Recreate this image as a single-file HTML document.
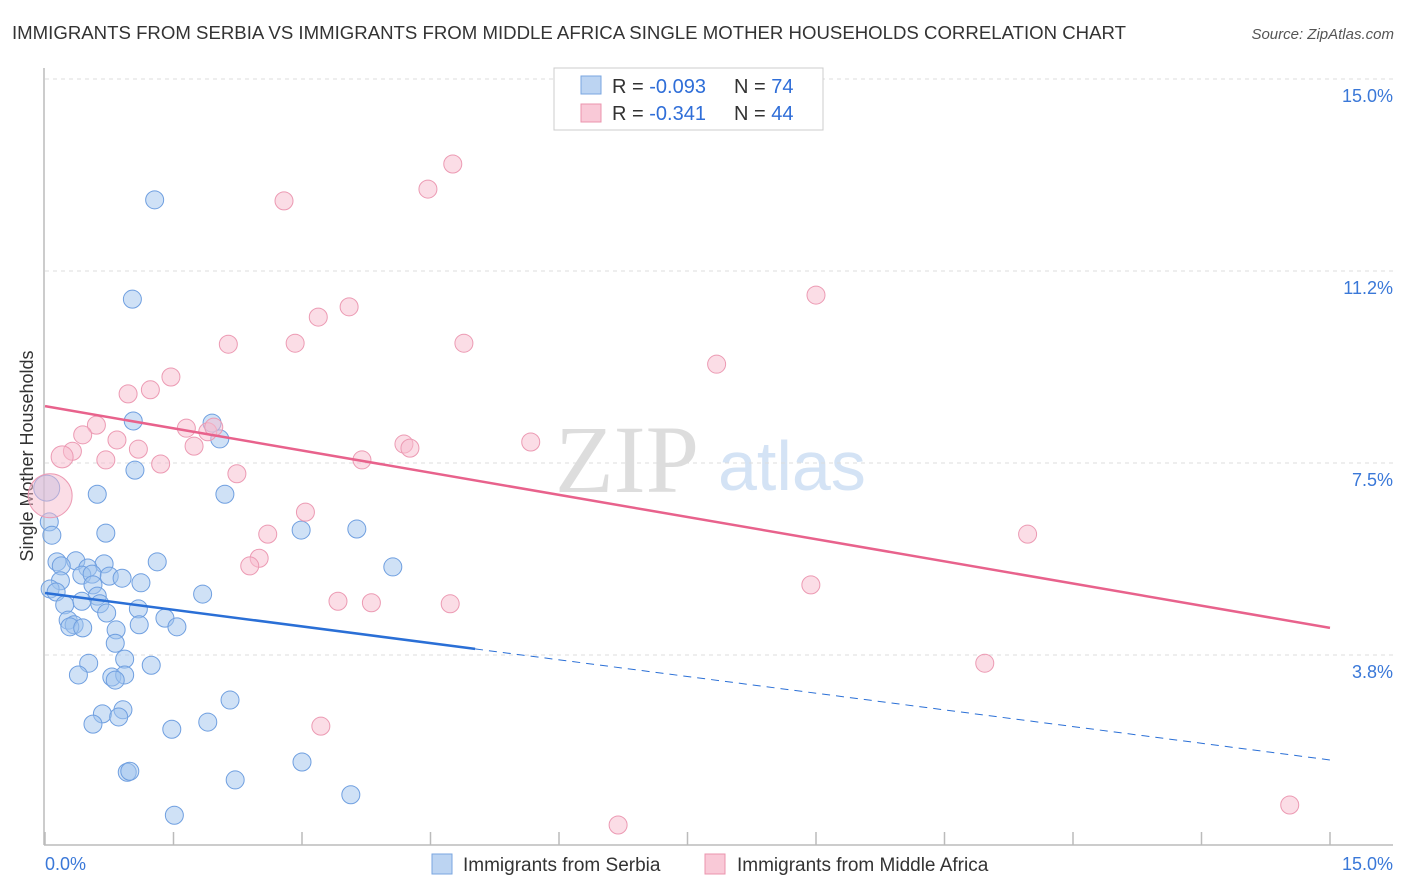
<!DOCTYPE html>
<html><head><meta charset="utf-8"><style>
body{margin:0;background:#fff;font-family:"Liberation Sans",sans-serif;}
#wrap{position:relative;width:1406px;height:892px;overflow:hidden}
</style></head><body>
<div id="wrap">
<svg id="svg" width="1406" height="892" xmlns="http://www.w3.org/2000/svg">
<text x="12" y="39" font-size="18" fill="#333" textLength="1114" lengthAdjust="spacingAndGlyphs">IMMIGRANTS FROM SERBIA VS IMMIGRANTS FROM MIDDLE AFRICA SINGLE MOTHER HOUSEHOLDS CORRELATION CHART</text>
<text x="1394" y="39" font-size="15" fill="#555" font-style="italic" text-anchor="end">Source: ZipAtlas.com</text>
<text x="33" y="456" font-size="18" fill="#333" text-anchor="middle" transform="rotate(-90 33 456)">Single Mother Households</text>
<text x="555" y="492" font-size="96" fill="#ddd" font-family="Liberation Serif">ZIP</text>
<text x="718" y="490" font-size="70" fill="#d4e3f5">atlas</text>
<g id="grid"></g><g id="pts"></g><g id="lines"></g>
<g>
<rect x="554" y="68" width="269" height="62" fill="#fff" stroke="#ccc"/>
<rect x="581" y="76" width="20" height="18" fill="#bcd4f2" stroke="#7aa6e0"/>
<rect x="581" y="104" width="20" height="18" fill="#f9c9d7" stroke="#eb94ae"/>
<text x="612" y="93" font-size="20" fill="#333">R = <tspan fill="#2f6ed8">-0.093</tspan></text>
<text x="734" y="93" font-size="20" fill="#333">N = <tspan fill="#2f6ed8">74</tspan></text>
<text x="612" y="120" font-size="20" fill="#333">R = <tspan fill="#2f6ed8"> -0.341</tspan></text>
<text x="734" y="120" font-size="20" fill="#333">N = <tspan fill="#2f6ed8">44</tspan></text>
</g>
<g>
<rect x="432" y="854" width="20" height="20" fill="#bcd4f2" stroke="#7aa6e0"/>
<text x="463" y="871" font-size="19" fill="#333">Immigrants from Serbia</text>
<rect x="705" y="854" width="20" height="20" fill="#f9c9d7" stroke="#eb94ae"/>
<text x="737" y="871" font-size="19" fill="#333">Immigrants from Middle Africa</text>
</g>
</svg>
</div>
<script>
const yTicks=[15.0,11.25,7.5,3.75];
const yTickLabels=["15.0%","11.2%","7.5%","3.8%"];
const xTicks=[0,1.5,3,4.5,6,7.5,9,10.5,12,13.5,15];
const serbiaX=[1.28,1.02,1.03,1.95,2.04,1.05,0.61,2.10,0.02,0.05,0.71,0.08,2.99,3.64,0.14,0.36,0.69,1.31,0.19,0.50,4.06,0.43,0.55,0.75,0.90,0.18,1.12,0.56,0.06,0.13,0.61,1.84,0.43,0.64,0.23,1.09,0.72,1.40,0.27,0.34,0.29,0.44,1.10,1.54,0.83,0.82,0.93,0.51,1.24,0.39,0.78,0.93,0.82,2.16,0.91,0.67,0.86,0.56,1.90,1.48,0.96,0.99,2.22,3.00,3.57,1.51];
const serbiaY=[12.64,10.70,8.32,8.28,7.97,7.36,6.89,6.89,7.01,6.35,6.13,6.09,6.19,6.21,5.57,5.59,5.53,5.57,5.49,5.45,5.47,5.31,5.33,5.29,5.25,5.20,5.16,5.12,5.04,4.98,4.90,4.94,4.80,4.75,4.73,4.65,4.57,4.47,4.43,4.34,4.30,4.28,4.34,4.30,4.24,3.98,3.67,3.59,3.55,3.36,3.32,3.36,3.26,2.87,2.68,2.60,2.54,2.40,2.44,2.30,1.46,1.48,1.31,1.66,1.02,0.62];
const africaX=[4.76,4.47,2.79,9.00,3.55,3.19,2.14,2.92,4.89,7.84,1.47,1.23,0.97,1.65,0.60,0.44,0.32,0.20,0.84,1.09,1.90,1.97,1.74,0.71,1.35,5.67,4.19,4.26,3.70,2.24,3.04,2.60,0.06,11.47,2.50,2.39,8.94,3.42,3.81,4.73,10.97,3.22,6.69,14.53];
const africaY=[13.34,12.85,12.62,10.78,10.55,10.35,9.82,9.84,9.84,9.43,9.18,8.93,8.85,8.18,8.24,8.05,7.73,7.62,7.95,7.77,8.11,8.20,7.83,7.56,7.48,7.91,7.87,7.79,7.56,7.29,6.54,6.11,6.86,6.11,5.64,5.49,5.12,4.80,4.77,4.75,3.59,2.36,0.43,0.82];
const serbiaTrend=[4.96,1.70];
const serbiaSolidEnd=5.02;
const africaTrend=[8.61,4.28];
const NS='http://www.w3.org/2000/svg';
const sx=v=>45+v/15*1285;
const sy=v=>847-v/3.75*192;
function mk(t,a,p){const e=document.createElementNS(NS,t);for(const k in a)e.setAttribute(k,a[k]);p.appendChild(e);return e;}
const grid=document.getElementById('grid'),pts=document.getElementById('pts'),lines=document.getElementById('lines');
yTicks.forEach((v,i)=>{
 const l=mk('line',{x1:45,x2:1393,y1:sy(v),y2:sy(v),stroke:'#ddd','stroke-dasharray':'4,4'},grid);
 
 
 const t=mk('text',{x:1393,y:sy(v)+23,'font-size':18,fill:'#3a78d8','text-anchor':'end'},grid);
 t.textContent=yTickLabels[i];
 
 
});
mk('line',{x1:44,x2:44,y1:68,y2:845,stroke:'#bbb','stroke-width':1.5},grid);
mk('line',{x1:44,x2:1393,y1:845,y2:845,stroke:'#bbb','stroke-width':1.5},grid);
xTicks.forEach(v=>{
 const l=mk('line',{x1:sx(v),x2:sx(v),y1:832,y2:845,stroke:'#bbb','stroke-width':1.5},grid);
 
 
});
let t=mk('text',{x:45,y:870,'font-size':18,fill:'#3a78d8'},grid);t.textContent='0.0%';


t=mk('text',{x:1393,y:870,'font-size':18,fill:'#3a78d8','text-anchor':'end'},grid);t.textContent='15.0%';


serbiaX.forEach((x,i)=>{
 const r=(i===8)?13:9;
 const c=mk('circle',{cx:sx(x),cy:sy(serbiaY[i]),r:r,fill:'rgba(160,195,238,0.5)',stroke:'#6f9fe0','stroke-width':1},pts);
 
 
});
africaX.forEach((x,i)=>{
 const r=(i===32)?22:(i===17?11:9);
 const c=mk('circle',{cx:sx(x),cy:sy(africaY[i]),r:r,fill:'rgba(248,188,206,0.5)',stroke:'#ec9ab3','stroke-width':1},pts);
 
 
});
const bAt=x=>serbiaTrend[0]+(serbiaTrend[1]-serbiaTrend[0])*x/15;
let ln=mk('line',{x1:sx(0),y1:sy(bAt(0)),x2:sx(serbiaSolidEnd),y2:sy(bAt(serbiaSolidEnd)),stroke:'#2a6fd6','stroke-width':2.5},lines);


ln=mk('line',{x1:sx(serbiaSolidEnd),y1:sy(bAt(serbiaSolidEnd)),x2:sx(15),y2:sy(bAt(15)),stroke:'#2a6fd6','stroke-width':1,'stroke-dasharray':'8,6'},lines);


ln=mk('line',{x1:sx(0),y1:sy(africaTrend[0]),x2:sx(15),y2:sy(africaTrend[1]),stroke:'#e8628c','stroke-width':2.5},lines);


</script>
</body></html>
